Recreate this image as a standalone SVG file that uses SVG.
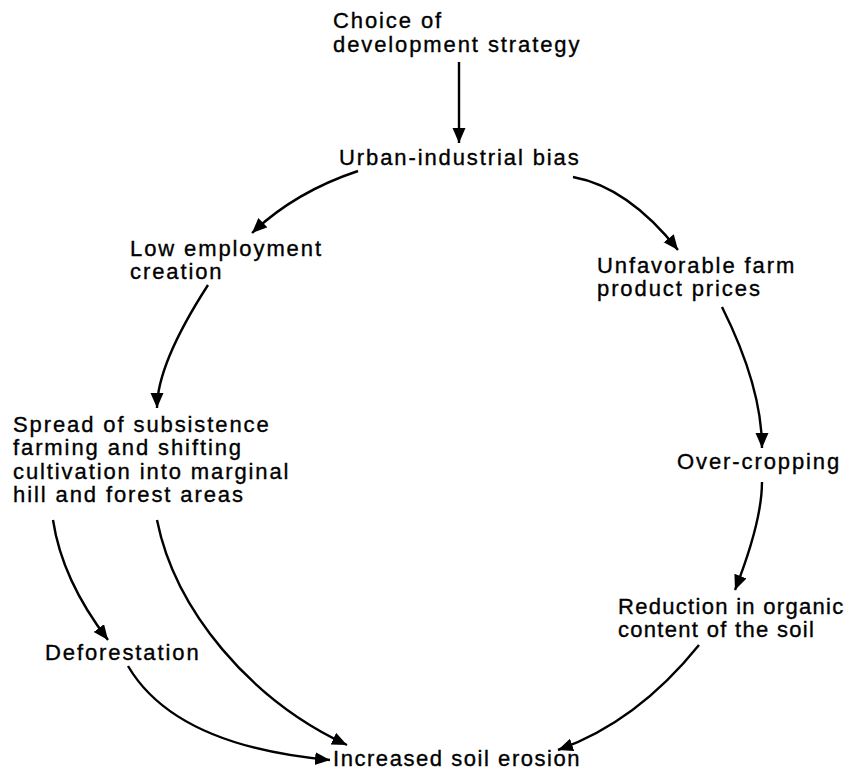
<svg xmlns="http://www.w3.org/2000/svg" width="866" height="778" viewBox="0 0 866 778">
<style>
text{font-family:"Liberation Sans",Arial,sans-serif;font-size:22px;letter-spacing:1.9px;fill:#000;stroke:#000;stroke-width:0.35}
.c{fill:none;stroke:#000;stroke-width:2.4;marker-end:url(#ah)}
#reduction text{letter-spacing:1.3px}
#erosion text{letter-spacing:1.55px}
</style>
<defs>
<marker id="ah" markerUnits="userSpaceOnUse" markerWidth="17" markerHeight="14" refX="15" refY="6.5" orient="auto">
<path d="M0,0 L15,6.5 L0,13 Z" fill="#000"/>
</marker>
</defs>
<rect width="866" height="778" fill="#fff"/>
<g id="connectors">
<path class="c" d="M459,62 L459,143"/>
<path class="c" d="M358,171 Q295,192 252,233"/>
<path class="c" d="M573,177 Q628,187 678,250"/>
<path class="c" d="M208,285 Q157,364 157,408"/>
<path class="c" d="M722,307 Q762,387 762,448"/>
<path class="c" d="M762,482 Q762,521 735,590"/>
<path class="c" d="M699,645 Q637,722 558,750"/>
<path class="c" d="M53,520 Q62,580 108,640"/>
<path class="c" d="M157,520 C175,610 250,700 347,745"/>
<path class="c" d="M128,666 Q175,746 330,760"/>
</g>
<g id="choice"><text x="333" y="28">Choice of</text><text x="333" y="52">development strategy</text></g>
<g id="urban"><text x="339" y="165">Urban-industrial bias</text></g>
<g id="low"><text x="130" y="256">Low employment</text><text x="130" y="279">creation</text></g>
<g id="unfavorable"><text x="597" y="273">Unfavorable farm</text><text x="597" y="296">product prices</text></g>
<g id="spread"><text x="13" y="432">Spread of subsistence</text><text x="13" y="455">farming and shifting</text><text x="13" y="479">cultivation into marginal</text><text x="13" y="502">hill and forest areas</text></g>
<g id="overcropping"><text x="677" y="469">Over-cropping</text></g>
<g id="reduction"><text x="618" y="614">Reduction in organic</text><text x="618" y="637">content of the soil</text></g>
<g id="deforestation"><text x="45" y="660">Deforestation</text></g>
<g id="erosion"><text x="333" y="766">Increased soil erosion</text></g>
</svg>
